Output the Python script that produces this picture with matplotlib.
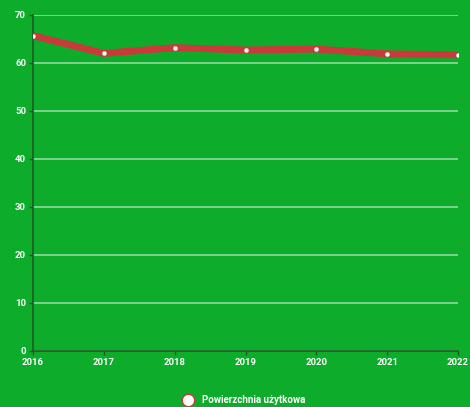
import matplotlib.pyplot as plt
from matplotlib.lines import Line2D

# dane
lata = [2016, 2017, 2018, 2019, 2020, 2021, 2022]
powierzchnia = [65.7, 62.0, 63.2, 62.7, 62.9, 61.9, 61.7]
y_ticks = [0, 10, 20, 30, 40, 50, 60, 70]
seria = "Powierzchnia użytkowa"

tlo = "#0dac2b"
plt.rcParams['font.family'] = ['Roboto', 'DejaVu Sans']

fig = plt.figure(figsize=(4.7, 4.07), dpi=100, facecolor=tlo)
ax = fig.add_axes([0.0702, 0.1376, 0.9043, 0.8256])
ax.set_facecolor(tlo)

ax.plot(lata, powierzchnia, color="#c93a3a", lw=5, solid_capstyle="butt",
        solid_joinstyle="round", zorder=3)
ax.plot(lata, powierzchnia, ls="none", marker="o", ms=3, mfc="white",
        mec="#f0d0d0", mew=0.3, zorder=4)

ax.set_xlim(2016, 2022)
ax.set_ylim(0, 70)
ax.set_xticks(lata)
ax.set_yticks(y_ticks)
ax.grid(axis="y", color="#b4e6bc", lw=1.2, alpha=0.8)
ax.set_axisbelow(True)

for s in ["top", "right"]:
    ax.spines[s].set_visible(False)
for s in ["left", "bottom"]:
    ax.spines[s].set_color("#1f5a26")
    ax.spines[s].set_linewidth(1.2)

ax.tick_params(colors="#1f5a26", length=3, width=1)
ax.tick_params(axis="x", labelcolor="white", labelsize=6.8, pad=2)
ax.tick_params(axis="y", labelcolor="white", labelsize=6.8, pad=2)
for t in ax.get_xticklabels() + ax.get_yticklabels():
    t.set_fontweight("bold")

h = Line2D([], [], ls="none", marker="o", ms=9, mfc="white", mec="#c93a3a", mew=1)
leg = fig.legend([h], [seria], loc="center", bbox_to_anchor=(0.515, 0.0165),
                 frameon=False, handletextpad=0.4,
                 prop={"size": 7, "weight": "bold"})
for t in leg.get_texts():
    t.set_color("white")

fig.savefig("out.png", dpi=100, facecolor=tlo)
